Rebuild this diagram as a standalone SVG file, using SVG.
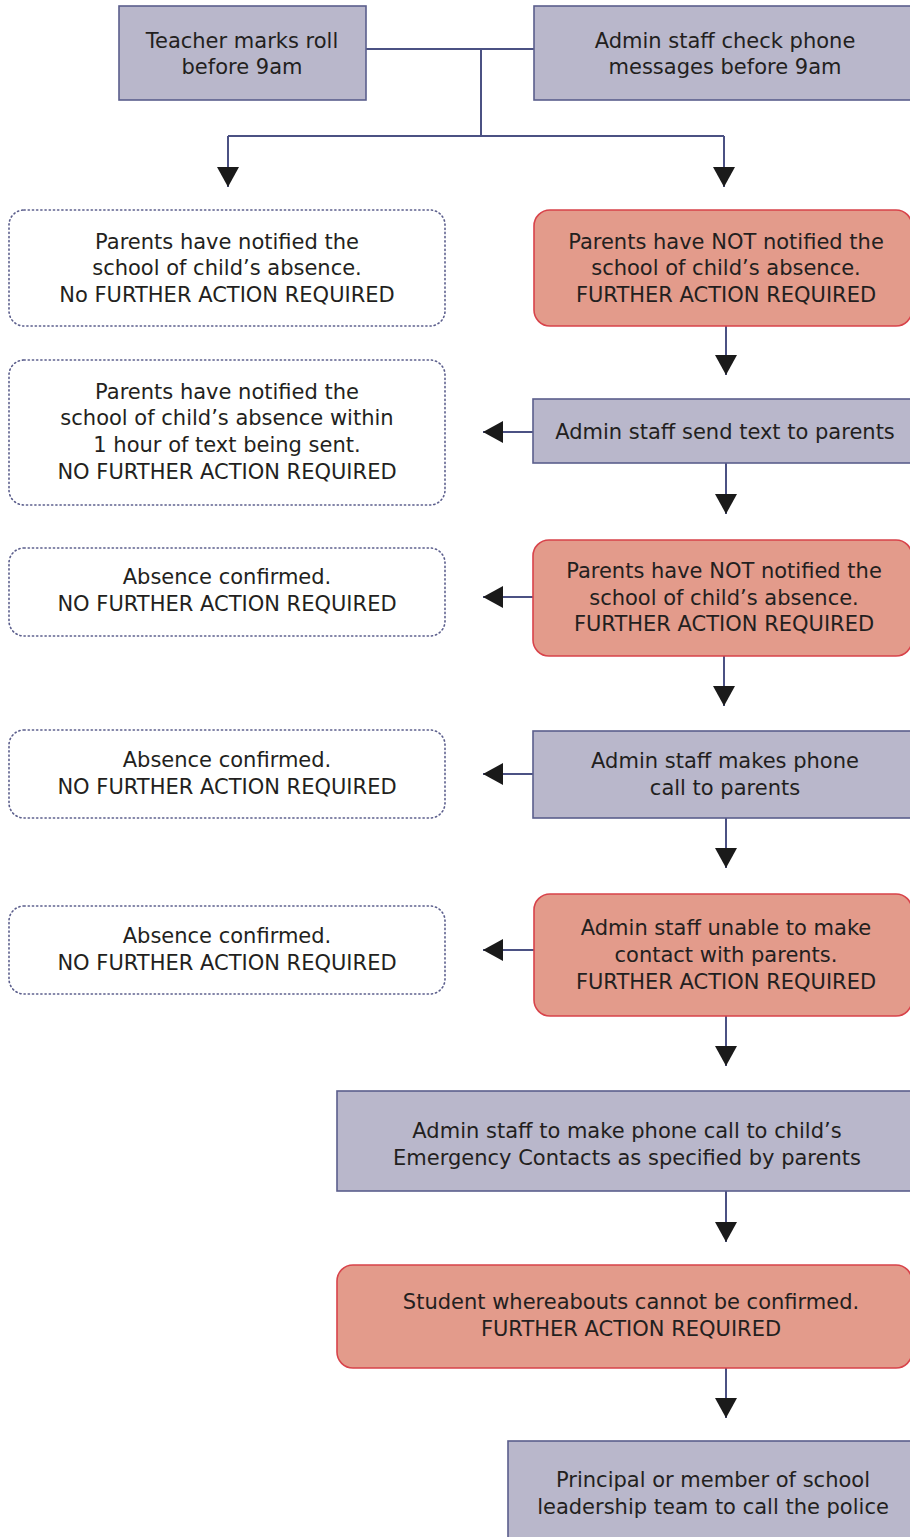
<svg xmlns="http://www.w3.org/2000/svg" width="910" height="1537" viewBox="0 0 910 1537">
<style>
  .txt { font-family: "DejaVu Sans", "Liberation Sans", sans-serif; font-size: 21px; fill: #231f20; text-anchor: middle; }
  .purple { fill: #b9b7cb; stroke: #5b5e8c; stroke-width: 1.6; }
  .red { fill: #e39b8b; stroke: #d8434a; stroke-width: 1.6; }
  .dotted { fill: #ffffff; stroke: #5b5e8c; stroke-width: 1.6; stroke-dasharray: 1.2 3; stroke-linecap: round; }
  .conn { fill: none; stroke: #4b5183; stroke-width: 2; }
  .arr { marker-end: url(#ah); }
</style>
<defs>
  <marker id="ah" markerUnits="userSpaceOnUse" markerWidth="22" markerHeight="22" viewBox="0 0 20 22" refX="20" refY="11" orient="auto">
    <path d="M0,0 L20,11 L0,22 z" fill="#1a1a1a"/>
  </marker>
</defs>
<rect width="910" height="1537" fill="#ffffff"/>

<g id="connectors">
  <path class="conn" d="M366,49 H534"/>
  <path class="conn" d="M481,49 V136"/>
  <path class="conn" d="M228,136 H724"/>
  <path class="conn arr" d="M228,136 V187"/>
  <path class="conn arr" d="M724,136 V187"/>
  <path class="conn arr" d="M726,326 V375"/>
  <path class="conn arr" d="M533,432 H483"/>
  <path class="conn arr" d="M726,463 V514"/>
  <path class="conn arr" d="M533,597 H483"/>
  <path class="conn arr" d="M724,656 V706"/>
  <path class="conn arr" d="M533,774 H483"/>
  <path class="conn arr" d="M726,818 V868"/>
  <path class="conn arr" d="M534,950 H483"/>
  <path class="conn arr" d="M726,1016 V1066"/>
  <path class="conn arr" d="M726,1191 V1242"/>
  <path class="conn arr" d="M726,1368 V1418"/>
</g>

<g id="teacher">
  <rect class="purple" x="119" y="6" width="247" height="94"/>
  <text class="txt" x="242" y="47.5">Teacher marks roll</text>
  <text class="txt" x="242" y="73.5">before 9am</text>
</g>
<g id="admin-check">
  <rect class="purple" x="534" y="6" width="380" height="94"/>
  <text class="txt" x="725" y="47.5">Admin staff check phone</text>
  <text class="txt" x="725" y="73.5">messages before 9am</text>
</g>

<g id="notified">
  <rect class="dotted" x="9" y="210" width="436" height="116" rx="15"/>
  <text class="txt" x="227" y="248.5">Parents have notified the</text>
  <text class="txt" x="227" y="274.5">school of child’s absence.</text>
  <text class="txt" x="227" y="301.5">No FURTHER ACTION REQUIRED</text>
</g>
<g id="not-notified-1">
  <rect class="red" x="534" y="210" width="378" height="116" rx="16"/>
  <text class="txt" x="726" y="248.5">Parents have NOT notified the</text>
  <text class="txt" x="726" y="274.5">school of child’s absence.</text>
  <text class="txt" x="726" y="301.5">FURTHER ACTION REQUIRED</text>
</g>

<g id="notified-within-hour">
  <rect class="dotted" x="9" y="360" width="436" height="145" rx="15"/>
  <text class="txt" x="227" y="398.5">Parents have notified the</text>
  <text class="txt" x="227" y="424.5">school of child’s absence within</text>
  <text class="txt" x="227" y="451.5">1 hour of text being sent.</text>
  <text class="txt" x="227" y="478.5">NO FURTHER ACTION REQUIRED</text>
</g>
<g id="send-text">
  <rect class="purple" x="533" y="399" width="380" height="64"/>
  <text class="txt" x="725" y="438.5">Admin staff send text to parents</text>
</g>

<g id="confirmed-1">
  <rect class="dotted" x="9" y="548" width="436" height="88" rx="15"/>
  <text class="txt" x="227" y="583.5">Absence confirmed.</text>
  <text class="txt" x="227" y="610.5">NO FURTHER ACTION REQUIRED</text>
</g>
<g id="not-notified-2">
  <rect class="red" x="533" y="540" width="379" height="116" rx="16"/>
  <text class="txt" x="724" y="577.5">Parents have NOT notified the</text>
  <text class="txt" x="724" y="604.5">school of child’s absence.</text>
  <text class="txt" x="724" y="630.5">FURTHER ACTION REQUIRED</text>
</g>

<g id="confirmed-2">
  <rect class="dotted" x="9" y="730" width="436" height="88" rx="15"/>
  <text class="txt" x="227" y="766.5">Absence confirmed.</text>
  <text class="txt" x="227" y="793.5">NO FURTHER ACTION REQUIRED</text>
</g>
<g id="phone-call">
  <rect class="purple" x="533" y="731" width="380" height="87"/>
  <text class="txt" x="725" y="767.5">Admin staff makes phone</text>
  <text class="txt" x="725" y="794.5">call to parents</text>
</g>

<g id="confirmed-3">
  <rect class="dotted" x="9" y="906" width="436" height="88" rx="15"/>
  <text class="txt" x="227" y="942.5">Absence confirmed.</text>
  <text class="txt" x="227" y="969.5">NO FURTHER ACTION REQUIRED</text>
</g>
<g id="unable-contact">
  <rect class="red" x="534" y="894" width="378" height="122" rx="16"/>
  <text class="txt" x="726" y="934.5">Admin staff unable to make</text>
  <text class="txt" x="726" y="961.5">contact with parents.</text>
  <text class="txt" x="726" y="988.5">FURTHER ACTION REQUIRED</text>
</g>

<g id="emergency-contacts">
  <rect class="purple" x="337" y="1091" width="576" height="100"/>
  <text class="txt" x="627" y="1137.5">Admin staff to make phone call to child’s</text>
  <text class="txt" x="627" y="1164.5">Emergency Contacts as specified by parents</text>
</g>

<g id="whereabouts">
  <rect class="red" x="337" y="1265" width="575" height="103" rx="16"/>
  <text class="txt" x="631" y="1308.5">Student whereabouts cannot be confirmed.</text>
  <text class="txt" x="631" y="1335.5">FURTHER ACTION REQUIRED</text>
</g>

<g id="police">
  <rect class="purple" x="508" y="1441" width="405" height="100"/>
  <text class="txt" x="713" y="1486.5">Principal or member of school</text>
  <text class="txt" x="713" y="1513.5">leadership team to call the police</text>
</g>
</svg>
